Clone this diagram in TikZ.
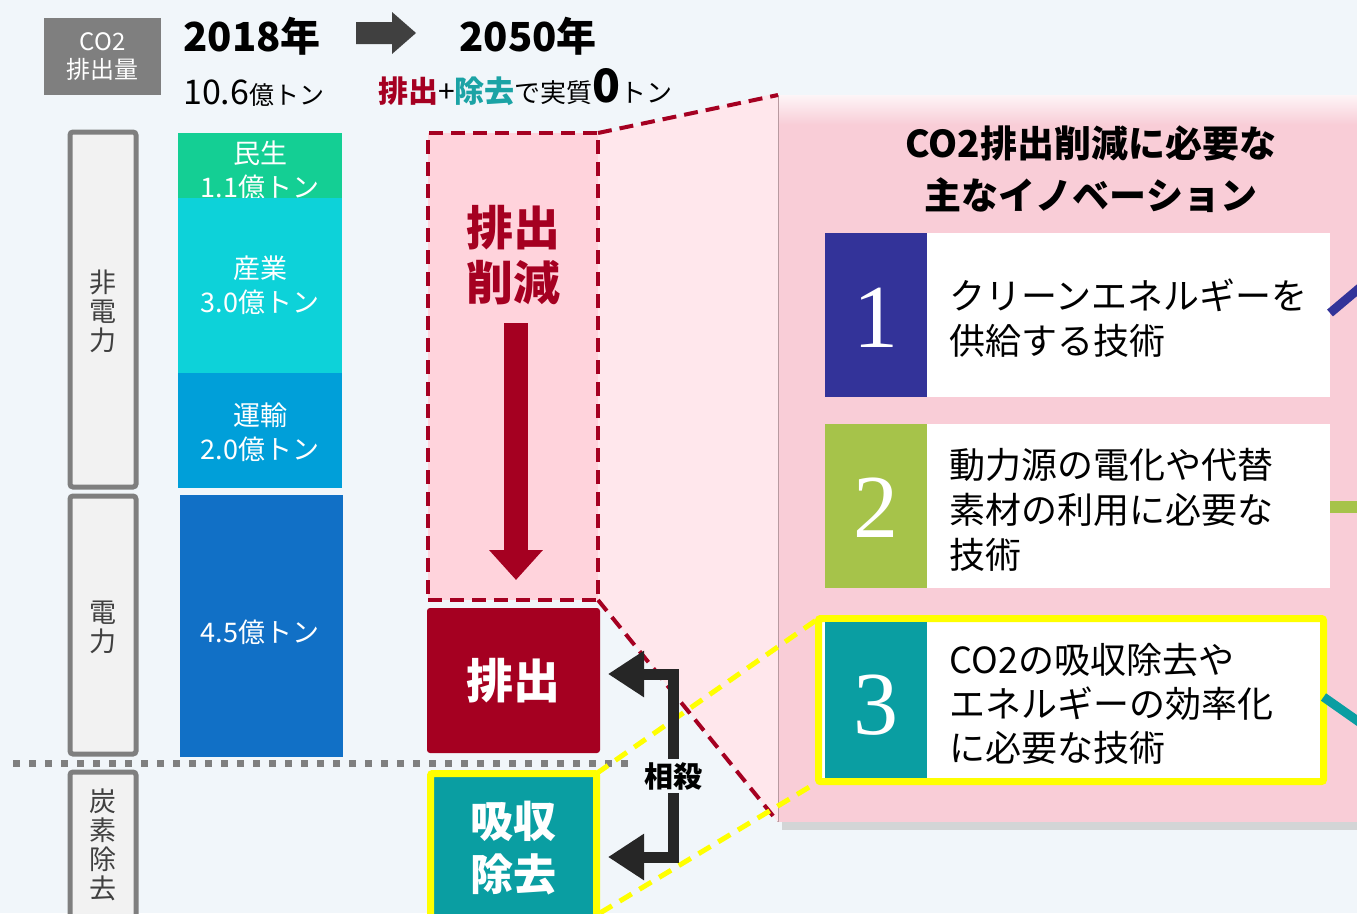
\documentclass[tikz,border=0pt]{standalone}
\usepackage{fontspec}
\setmainfont{Noto Sans CJK JP}
\newfontfamily\numfont{Liberation Serif}
\usetikzlibrary{arrows.meta}
\definecolor{bgc}{HTML}{F1F6FA}
\definecolor{graybox}{HTML}{7F7F7F}
\definecolor{arrowgray}{HTML}{404040}
\definecolor{dred}{HTML}{A50021}
\definecolor{tealc}{HTML}{0A9EA2}
\definecolor{tealtxt}{HTML}{1BA3A5}
\definecolor{panelc}{HTML}{F9CDD7}
\definecolor{trapc}{HTML}{FFE7EC}
\definecolor{dashfill}{HTML}{FFD3DC}
\definecolor{lblfill}{HTML}{F2F2F2}
\definecolor{lbltext}{HTML}{404040}
\definecolor{barA}{HTML}{14CF94}
\definecolor{barB}{HTML}{0DD2D9}
\definecolor{barC}{HTML}{009FD9}
\definecolor{barD}{HTML}{1170C6}
\definecolor{indigo}{HTML}{333399}
\definecolor{olive}{HTML}{A6C34A}
\definecolor{brk}{HTML}{262626}
\definecolor{yel}{HTML}{FFFF00}
\begin{document}
\begin{tikzpicture}[x=1pt,y=-1pt,
  box/.style={inner sep=0pt, outer sep=0pt},
  lblbox/.style={box, draw=graybox, line width=5pt, fill=lblfill, rounded corners=3pt, minimum width=66pt},
  lbltxt/.style={text=lbltext, align=center, font=\fontsize{27}{29}\selectfont},
  bartxt/.style={text=white, align=center, font=\fontsize{27}{34}\selectfont},
  itemtxt/.style={anchor=west, align=left, font=\fontsize{36}{45}\selectfont},
  numtxt/.style={text=white, font=\numfont\fontsize{90}{90}\selectfont},
  reddash/.style={draw=dred, line width=4pt, dash pattern=on 14pt off 8pt},
  yeldash/.style={draw=yel, line width=5pt, dash pattern=on 14pt off 9pt}]
\clip (0,0) rectangle (1357,913);
\fill[bgc] (0,0) rectangle (1357,913);

% header
\node[box, fill=graybox, minimum width=117pt, minimum height=77pt, text=white, align=center, font=\fontsize{24}{28}\selectfont] (co2) at (102.5,56.5) {CO2\\排出量};
\node[font=\fontsize{40}{40}\selectfont\bfseries] (y2018) at (252,36) {2018年};
\fill[arrowgray] (356,22) -- (392,22) -- (392,12) -- (416,33) -- (392,54) -- (392,44) -- (356,44) -- cycle;
\node[font=\fontsize{40}{40}\selectfont\bfseries] (y2050) at (528,36) {2050年};
\node[anchor=base west, inner sep=0pt] (amt) at (183,104) {\fontsize{34}{34}\selectfont 10.6\fontsize{25}{25}\selectfont 億トン};
\node[anchor=base west, inner sep=0pt] (net) at (378,102) {{\color{dred}\fontsize{30}{30}\selectfont\bfseries 排出}{\fontsize{30}{30}\selectfont +}{\color{tealtxt}\fontsize{30}{30}\selectfont\bfseries 除去}{\fontsize{26}{26}\selectfont で実質}{\fontsize{46}{46}\selectfont\bfseries 0}{\fontsize{26}{26}\selectfont トン}};

% left labels
\node[lblbox, minimum height=355pt] (lbl1) at (103,309.5) {};
\node[lbltxt] (lbl1t) at (103,311) {非\\電\\力};
\node[lblbox, minimum height=258pt] (lbl2) at (103,625) {};
\node[lbltxt] (lbl2t) at (103,627) {電\\力};
\node[lblbox, minimum height=170pt] (lbl3) at (103,857) {};
\node[lbltxt, anchor=north] (lbl3t) at (103,785) {炭\\素\\除\\去};

% bars
\node[box, fill=barA, minimum width=164pt, minimum height=65pt] (barA) at (260,165.5) {};
\node[bartxt] (barAt) at (260,170) {民生\\1.1億トン};
\node[box, fill=barB, minimum width=164pt, minimum height=175pt] (barB) at (260,285.5) {};
\node[bartxt] (barBt) at (260,285) {産業\\3.0億トン};
\node[box, fill=barC, minimum width=164pt, minimum height=115pt] (barC) at (260,430.5) {};
\node[bartxt] (barCt) at (260,432) {運輸\\2.0億トン};
\node[box, fill=barD, minimum width=163pt, minimum height=262pt] (barD) at (261.5,626) {};
\node[bartxt] (barDt) at (260,632) {4.5億トン};

% dotted separator
\coordinate (dotA) at (13,763);
\coordinate (dotB) at (632,763);
\draw[graybox, line width=7pt, dash pattern=on 7pt off 9pt] (dotA) -- (dotB);

% panel
\fill[black!25, opacity=0.6] (782,99) rectangle (1365,830);
\node[box, fill=panelc, minimum width=602pt, minimum height=727pt] (panel) at (1079,458.5) {};
\shade[top color=white, bottom color=panelc, opacity=0.8] (779,95) rectangle (1357,125);
\draw[color=panelc!70!black, line width=2pt] (panel.north west) -- (panel.south west);

% trapezoid
\coordinate (trapSW) at (778,822);
\fill[trapc] (598,135) -- (778,93) -- (trapSW) -- (598,600) -- cycle;

% dashed reduction box
\node[box, fill=dashfill, reddash, minimum width=170pt, minimum height=467pt] (reduce) at (513,366.5) {};
\node[text=dred, align=center, font=\fontsize{47}{55}\selectfont\bfseries] (reducet) at (513,255.5) {排出\\削減};
\coordinate (rarrA) at (516,323);
\coordinate (rarrB) at (516,580);
\draw[dred, line width=24pt, -{Triangle[length=30pt, width=52pt]}] (rarrA) -- (rarrB);

\draw[reddash] (reduce.north east) -- (panel.north west);
\draw[reddash] (reduce.south east) -- (trapSW);

% title
\node[align=center, font=\fontsize{37}{52}\selectfont\bfseries] (title) at (1091,169) {CO2排出削減に必要な\\主なイノベーション};

% item 1
\node[box, fill=indigo, minimum width=102pt, minimum height=164pt] (n1) at (876,315) {};
\node[box, fill=white, minimum width=403pt, minimum height=164pt] (w1) at (1128.5,315) {};
\node[itemtxt] (t1) at (946,318) {クリーンエネルギーを\\供給する技術};
\node[numtxt] (n1t) at (876,318) {1};
% item 2
\node[box, fill=olive, minimum width=102pt, minimum height=164pt] (n2) at (876,506) {};
\node[box, fill=white, minimum width=403pt, minimum height=164pt] (w2) at (1128.5,506) {};
\node[itemtxt] (t2) at (946,510) {動力源の電化や代替\\素材の利用に必要な\\技術};
\node[numtxt] (n2t) at (876,508) {2};
% item 3
\node[box, draw=yel, line width=7pt, fill=white, minimum width=505pt, minimum height=163pt, rounded corners=2pt] (y3) at (1071,700) {};
\node[box, fill=tealc, minimum width=102pt, minimum height=156pt] (n3) at (876,700) {};
\node[itemtxt, font=\fontsize{36}{44}\selectfont] (t3) at (946,704) {CO2の吸収除去や\\エネルギーの効率化\\に必要な技術};
\node[numtxt] (n3t) at (876,705) {3};

% stubs
\coordinate (s1e) at (1362,286);
\coordinate (s2e) at (1362,507);
\coordinate (s3e) at (1362,724);
\draw[indigo, line width=9pt] (w1.east |- 0,313) -- (s1e);
\draw[olive, line width=12pt] (w2.east |- 0,507) -- (s2e);
\draw[tealc, line width=9pt] (y3.east |- 0,697) -- (s3e);

% emission box
\node[box, fill=dred, rounded corners=3pt, minimum width=173pt, minimum height=145pt, text=white, font=\fontsize{47}{47}\selectfont\bfseries] (emit) at (513.5,680.5) {排出};

% absorb box
\node[box, draw=yel, line width=7pt, fill=tealc, rounded corners=2pt, minimum width=166pt, minimum height=170pt] (absorb) at (513.5,858.5) {};
\node[text=white, align=center, font=\fontsize{43}{53}\selectfont\bfseries] (absorbt) at (513,848.5) {吸収\\除去};

% yellow dashed lines
\coordinate (absBR) at (600,913);
\draw[yeldash] (absorb.north east) -- (y3.north west);
\draw[yeldash] (absBR) -- (y3.south west);

% bracket arrows
\coordinate (brA) at (608,674);
\coordinate (brB) at (673,674);
\coordinate (brC) at (673,857);
\coordinate (brD) at (608,857);
\draw[brk, line width=11pt, line join=miter, {Triangle[length=36pt, width=44pt]}-{Triangle[length=36pt, width=44pt]}] (brA) -- (brB) -- (brC) -- (brD);
\node[fill=bgc, inner sep=3pt, font=\fontsize{29}{29}\selectfont\bfseries] (offset) at (673,776) {相殺};
\end{tikzpicture}
\end{document}
